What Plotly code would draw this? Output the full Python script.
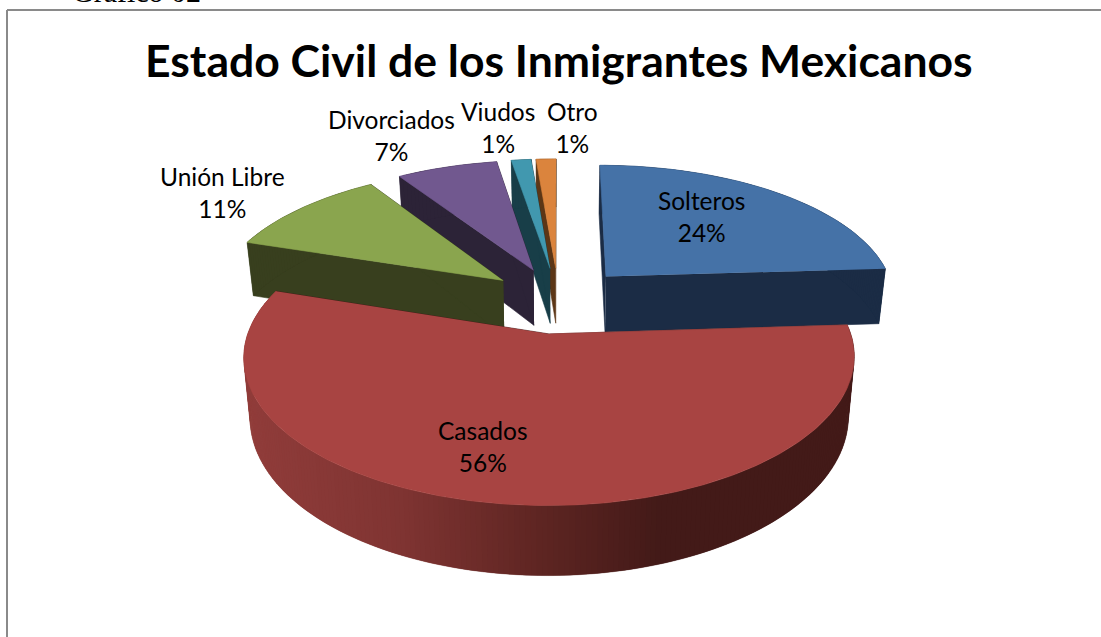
import numpy as np
import plotly.graph_objects as go

# Marital status of Mexican immigrants, in percent
categories = ["Solteros", "Casados", "Unión Libre", "Divorciados", "Viudos", "Otro"]
values = [24.0, 56.0, 10.8, 6.6, 1.3, 1.3]
top_colors = ["#4572A7", "#A84442", "#8AA54E", "#71588F", "#4198AF", "#DB843D"]
wall_colors = ["#1B2C45", "#431A18", "#383F1E", "#2C2337", "#183E48", "#5C3616"]
draw_order = [5, 4, 3, 2, 0, 1]  # back to front

# Label centres on the page, in pixels
label_x = [701, 483, 222, 391, 498, 572]
label_y = [216, 446, 192, 135, 127, 127]

TITLE = "Estado Civil de los Inmigrantes Mexicanos"
CAPTION = "Gráfico 02"

# Projection of the pie disc on the page
CX, CY = 558.5, 300.0
RX, RY = 290.5, 134.5
PERSP = 0.15
EXPLODE = 0.245
HEIGHT = 57.0
BASE_SCALE = 0.98


def project(u, v, lower=False):
    w = 1 + PERSP * v
    x = RX * u / w
    y = CY - RY * v / w
    if lower:
        y = y + HEIGHT / w
        x = x * BASE_SCALE
    return CX + x, y


def polygon(xs, ys, color, edge=0.6):
    return go.Scatter(
        x=list(xs), y=list(ys), mode="lines", fill="toself", fillcolor=color,
        line=dict(color=color, width=edge), hoverinfo="skip", showlegend=False,
    )


def blend(a, b, t):
    ca = [int(a[i:i + 2], 16) for i in (1, 3, 5)]
    cb = [int(b[i:i + 2], 16) for i in (1, 3, 5)]
    return "#" + "".join(f"{round(p + (q - p) * t):02x}" for p, q in zip(ca, cb))


def casados_wall_color(x):
    # Horizontal shading of the curved side of the largest slice
    stops = [(250, "#903C3A"), (400, "#7F3432"), (540, "#5E2522"), (660, "#431A18")]
    if x >= stops[-1][0]:
        return stops[-1][1]
    for (x0, c0), (x1, c1) in zip(stops, stops[1:]):
        if x <= x1:
            return blend(c0, c1, max(0, (x - x0) / (x1 - x0)))
    return stops[-1][1]


fig = go.Figure()

total = sum(values)
edges = np.cumsum([0] + values) / total * 2 * np.pi

# Each slice: radial side walls, curved wall, then the top face
for i in draw_order:
    a0, a1 = edges[i], edges[i + 1]
    mid = (a0 + a1) / 2
    u0, v0 = EXPLODE * np.sin(mid), EXPLODE * np.cos(mid)
    arc = np.linspace(a0, a1, max(6, int(values[i] * 4)) + 1)
    au, av = u0 + np.sin(arc), v0 + np.cos(arc)

    for a in (a0, a1):
        eu, ev = u0 + np.sin(a), v0 + np.cos(a)
        tx, ty = zip(project(u0, v0), project(eu, ev))
        bx, by = zip(project(eu, ev, True), project(u0, v0, True))
        fig.add_trace(polygon(tx + bx, ty + by, wall_colors[i]))

    tx, ty = project(au, av)
    bx, by = project(au, av, True)
    n = len(arc) - 1
    for k in range(n):
        c = casados_wall_color((tx[k] + tx[k + 1]) / 2) if categories[i] == "Casados" else wall_colors[i]
        # Each band reaches over the next one so that no seams show
        j = min(k + 2, n)
        fig.add_trace(polygon(
            [tx[k], tx[j], bx[j], bx[k]],
            [ty[k], ty[j], by[j], by[k]], c, edge=0.2))

    fx, fy = project(np.r_[u0, au], np.r_[v0, av])
    fig.add_trace(polygon(fx, fy, top_colors[i]))

# Slice labels
for name, val, lx, ly in zip(categories, values, label_x, label_y):
    fig.add_annotation(
        x=lx, y=ly, xref="x", yref="y", text=f"{name}<br>{round(val / total * 100)}%",
        showarrow=False, font=dict(family="Lato", size=24.5, color="#000000"), align="center",
    )

fig.add_annotation(x=559, y=59, xref="x", yref="y", text=f"<b>{TITLE}</b>", showarrow=False,
                   font=dict(family="Lato", size=44.5, color="#000000"))
fig.add_annotation(x=70 / 1101, y=1 - 10 / 637, xref="paper", yref="paper", text=CAPTION, showarrow=False,
                   xanchor="left", yanchor="bottom",
                   font=dict(family="Liberation Serif", size=30, color="#000000"))

# Chart frame: only its top and left edges fall on the page
fig.add_shape(type="line", x0=7, y0=10, x1=1101, y1=10, xref="x", yref="y",
              line=dict(color="#8A8A8A", width=2))
fig.add_shape(type="line", x0=7, y0=10, x1=7, y1=637, xref="x", yref="y",
              line=dict(color="#8A8A8A", width=2))

fig.update_xaxes(range=[0, 1101], visible=False)
fig.update_yaxes(range=[637, 0], visible=False)
fig.update_layout(width=1101, height=637, margin=dict(l=0, r=0, t=0, b=0),
                  paper_bgcolor="#FFFFFF", plot_bgcolor="#FFFFFF", showlegend=False)
fig.write_html("out.html", config={"displayModeBar": False})
